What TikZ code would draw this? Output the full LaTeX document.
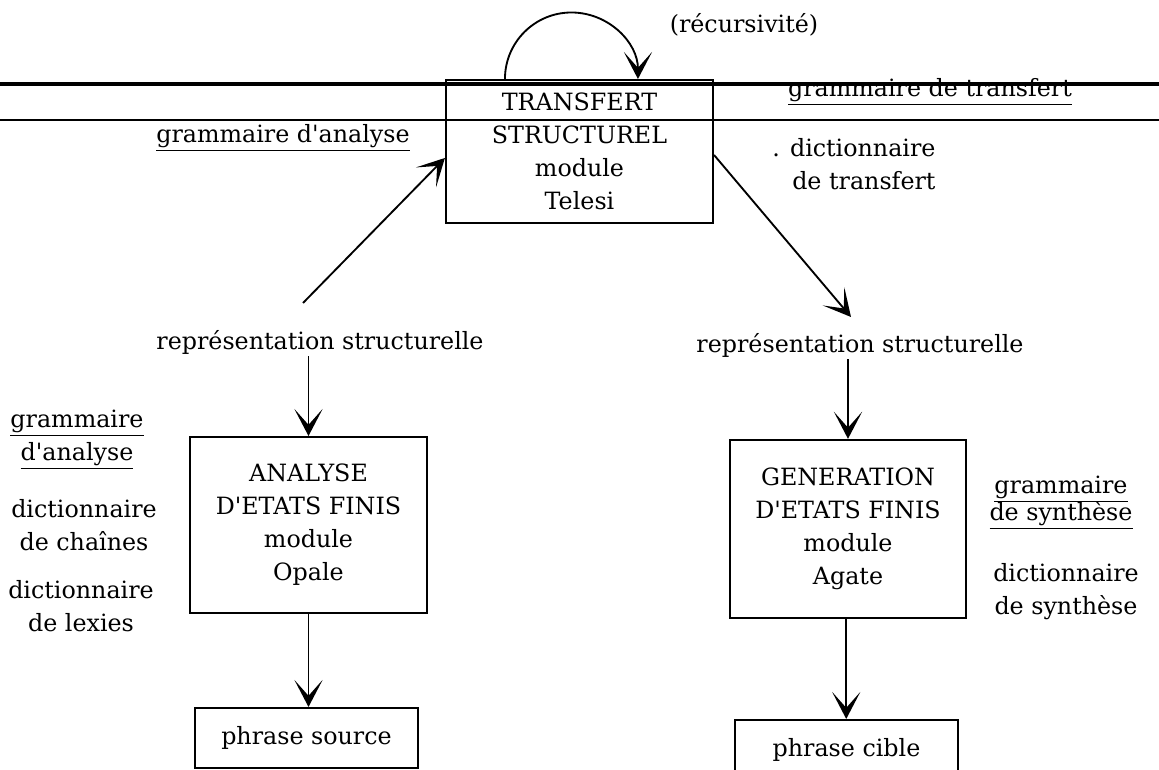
\documentclass[tikz,border=0pt]{standalone}
\usepackage{fontspec}
\setmainfont{DejaVu Serif}
\usetikzlibrary{arrows.meta,calc}

\begin{document}
\begin{tikzpicture}[
  x=0.017cm,
  y=-0.017cm,
  font=\fontsize{11.5}{16}\selectfont,
  line/.style={draw=black,line width=0.9pt},
  arrow/.style={line,-{Stealth[length=0.46cm,width=0.48cm,inset=0.27cm]}},
  modbox/.style={draw=black,line width=1pt,align=center,inner sep=0pt},
  phrasebox/.style={modbox,minimum width=3.79cm,minimum height=1.02cm},
  label/.style={align=center,inner sep=1pt}
]
\useasboundingbox (0,0) rectangle (1159,770);

% Separator lines
\draw[line width=1.6pt] (0,84) -- (1159,84);
\draw[line width=0.8pt] (0,120) -- (1159,120);

% Transfer module
\node[modbox,minimum width=4.54cm,minimum height=2.43cm] (transfert) at (579.5,151.5)
  {TRANSFERT\\STRUCTUREL\\module\\Telesi};
\draw[arrow] ([xshift=-1.267cm]transfert.north) arc[start angle=180,end angle=360,radius=66.5];
\node[label] (recurs) at (744,25) {(récursivité)};
\node[label] (gramT) at (930,92) {\underline{grammaire de transfert}};
\node[label] (gramA) at (283,138) {\underline{grammaire d\textquotesingle analyse}};
\node[label,align=right,anchor=east] (dictT) at (938,164) {. dictionnaire\\de transfert};

% Structural representations
\node[label] (repL) at (320,342) {représentation structurelle};
\node[label] (repR) at (860,345) {représentation structurelle};
\coordinate (startL) at (303,303);
\coordinate (endR) at (851,317);
\draw[arrow] (startL) -- ([yshift=-0.11cm]transfert.west);
\draw[arrow] ([yshift=-0.06cm]transfert.east) -- (endR);

% Analysis side
\node[modbox,minimum width=4.03cm,minimum height=2.99cm] (analyse) at (308.5,525)
  {ANALYSE\\D\textquotesingle ETATS FINIS\\module\\Opale};
\node[phrasebox] (source) at (306.5,738) {phrase source};
\draw[arrow] (repL.south -| analyse.north) -- (analyse.north);
\draw[arrow] (analyse.south) -- (analyse.south |- source.north);
\node[label] (gramA2) at (77,440) {\underline{grammaire}\\\underline{d\textquotesingle analyse}};
\node[label] (dictC) at (84,525) {dictionnaire\\de chaînes};
\node[label] (dictL) at (81,606) {dictionnaire\\de lexies};

% Generation side
\node[modbox,minimum width=4.01cm,minimum height=3.03cm] (generation) at (848,529)
  {GENERATION\\D\textquotesingle ETATS FINIS\\module\\Agate};
\node[phrasebox] (cible) at (846.5,750) {phrase cible};
\draw[arrow] (repR.south -| generation.north) -- (generation.north);
\draw[arrow] ([xshift=-0.03cm]generation.south) -- ([xshift=-0.03cm]generation.south |- cible.north);
\node[label] (gramS) at (1061,503) {\underline{grammaire}\\[-0.1cm]\underline{de synthèse}};
\node[label] (dictS) at (1066,592) {dictionnaire\\de synthèse};

\end{tikzpicture}
\end{document}
